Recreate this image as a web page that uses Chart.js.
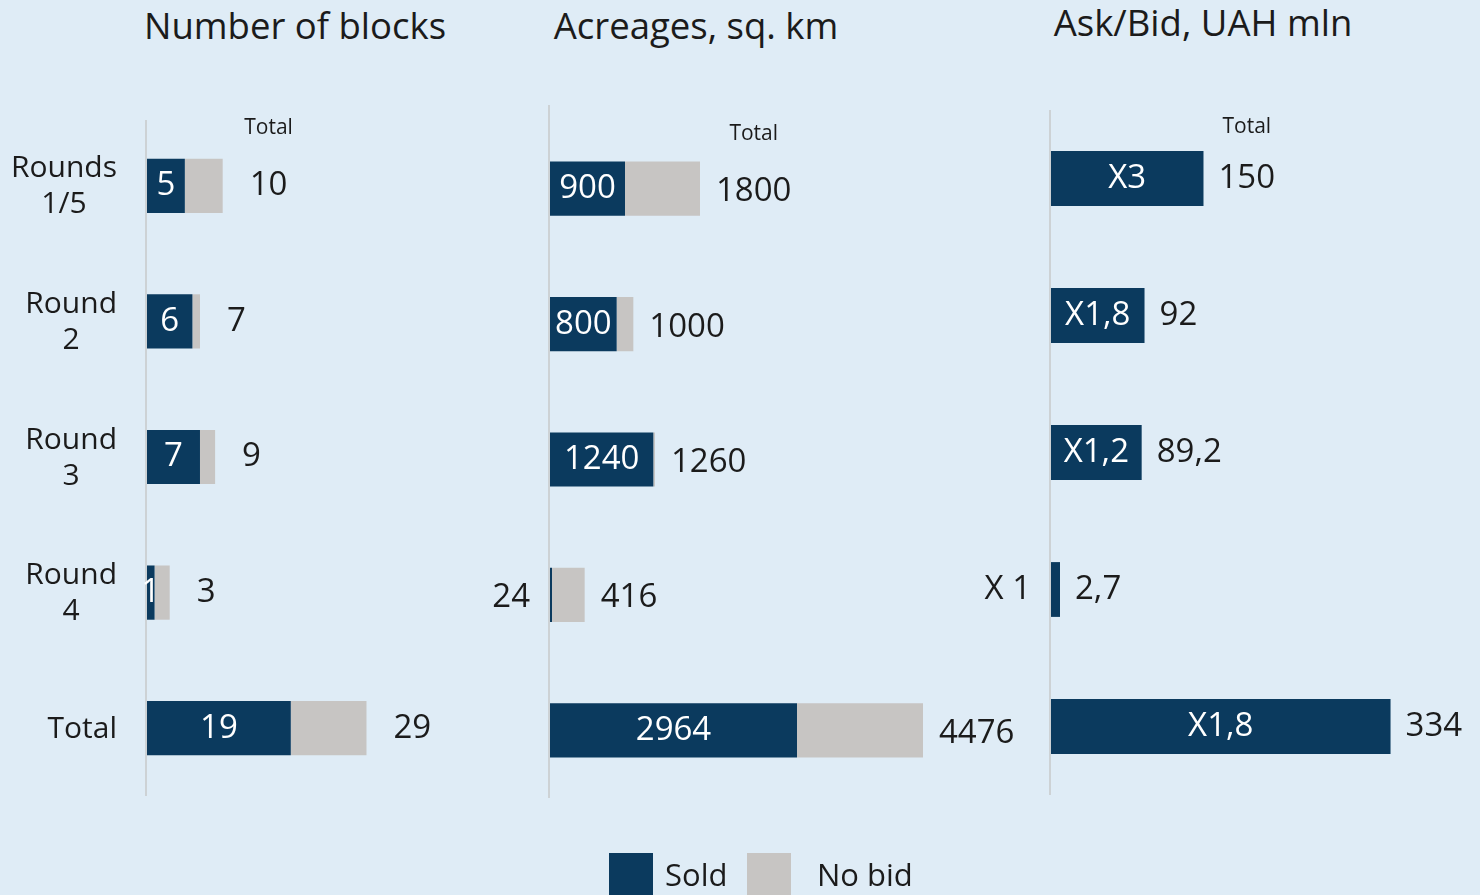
<!DOCTYPE html>
<html>
<head>
<meta charset="utf-8">
<script src="https://cdn.jsdelivr.net/npm/chart.js@4/dist/chart.umd.min.js"></script>
<style>
  body { margin: 0; background: #DFECF6; font-family: 'Open Sans', sans-serif; color: #1b1b1b; }
  #wrap { position: relative; width: 1480px; height: 895px; overflow: hidden; }
  canvas { position: absolute; left: 0; top: 0; }
  .title { position: absolute; font-size: 36.5px; white-space: nowrap; transform: translate(-50%, -50%); }
  .sw { position: absolute; width: 44px; height: 44px; top: 853px; }
  .lg { position: absolute; font-size: 31px; top: 874px; transform: translateY(-50%); white-space: nowrap; }
</style>
</head>
<body>
<div id="wrap">
  <div class="title" style="left:295px; top:25px">Number of blocks</div>
  <div class="title" style="left:696px; top:25px">Acreages, sq. km</div>
  <div class="title" style="left:1203px; top:22px">Ask/Bid, UAH mln</div>
  <canvas id="c1" width="1480" height="895"></canvas>
  <canvas id="c2" width="1480" height="895"></canvas>
  <canvas id="c3" width="1480" height="895"></canvas>
  <div class="sw" style="left:609px; background:#0B3A5E"></div>
  <div class="lg" style="left:665px">Sold</div>
  <div class="sw" style="left:747px; background:#C7C5C3"></div>
  <div class="lg" style="left:817px">No bid</div>
</div>
<script>
const rounds = [['Rounds', '1/5'], ['Round', '2'], ['Round', '3'], ['Round', '4'], 'Total'];

// number of blocks
const blocksSold = [5, 6, 7, 1, 19];
const blocksNoBid = [5, 1, 2, 2, 10];
const blocksTotal = ['10', '7', '9', '3', '29'];

// acreages, sq. km
const areaSold = [900, 800, 1240, 24, 2964];
const areaNoBid = [900, 200, 20, 392, 1512];
const areaTotal = ['1800', '1000', '1260', '416', '4476'];

// ask/bid, UAH mln
const bidSold = [150, 92, 89.2, 2.7, 334];
const bidRatio = ['X3', 'X1,8', 'X1,2', 'X 1', 'X1,8'];
const bidTotal = ['150', '92', '89,2', '2,7', '334'];

const DARK = '#0B3A5E';
const GRAY = '#C7C5C3';
const TEXT = '#1b1b1b';
const FONT = "'Open Sans', sans-serif";

const labelsPlugin = {
  id: 'panelLabels',
  afterDatasetsDraw(chart) {
    const o = chart.options.plugins.panelLabels;
    const ctx = chart.ctx;
    const area = chart.chartArea;
    const yScale = chart.scales.y;
    ctx.save();

    // axis line
    ctx.strokeStyle = '#CDD2D5';
    ctx.lineWidth = 2;
    ctx.beginPath();
    ctx.moveTo(area.left - 1, o.axisTop);
    ctx.lineTo(area.left - 1, area.bottom);
    ctx.stroke();

    // category labels
    if (o.categories) {
      ctx.font = '30px ' + FONT;
      ctx.fillStyle = TEXT;
      ctx.textAlign = 'center';
      ctx.textBaseline = 'middle';
      o.categories.forEach((lab, i) => {
        const lines = Array.isArray(lab) ? lab : [lab];
        const w = Math.max(...lines.map(l => ctx.measureText(l).width));
        const cx = o.catRight - w / 2;
        const cy = yScale.getPixelForValue(i) + 1;
        lines.forEach((l, k) => {
          ctx.fillText(l, cx, cy + (k - (lines.length - 1) / 2) * 36);
        });
      });
    }

    const soldMeta = chart.getDatasetMeta(0).data;
    const lastMeta = chart.getDatasetMeta(chart.data.datasets.length - 1).data;

    // labels inside the sold bars
    ctx.font = '33px ' + FONT;
    ctx.textBaseline = 'middle';
    o.inner.forEach((txt, i) => {
      const bar = soldMeta[i];
      const w = bar.x - bar.base;
      const tw = ctx.measureText(txt).width;
      if (o.outsideLeft && tw > w) {
        ctx.fillStyle = TEXT;
        ctx.textAlign = 'right';
        ctx.fillText(txt, area.left - 20, bar.y + o.dy);
      } else {
        ctx.fillStyle = '#ffffff';
        ctx.textAlign = 'center';
        ctx.fillText(txt, (bar.x + bar.base) / 2, bar.y);
      }
    });

    // totals to the right
    ctx.fillStyle = TEXT;
    ctx.textAlign = 'left';
    ctx.font = '33px ' + FONT;
    let firstCenter = 0;
    o.totals.forEach((txt, i) => {
      const bar = lastMeta[i];
      const x = bar.x + o.gap;
      ctx.fillText(txt, x, bar.y + o.dy);
      if (i === 0) firstCenter = x + ctx.measureText(txt).width / 2;
    });

    // "Total" header
    ctx.font = '21px ' + FONT;
    ctx.textAlign = 'center';
    ctx.fillText('Total', firstCenter, yScale.getPixelForValue(0) - o.headOffset);
    ctx.restore();
  }
};

function makePanel(id, p) {
  const datasets = [{ label: 'Sold', data: p.sold, backgroundColor: DARK, minBarLength: p.minBar || 0 }];
  if (p.noBid) datasets.push({ label: 'No bid', data: p.noBid, backgroundColor: GRAY });
  return new Chart(document.getElementById(id), {
    type: 'bar',
    data: { labels: rounds, datasets },
    options: {
      indexAxis: 'y',
      responsive: false,
      animation: false,
      events: [],
      layout: { padding: { left: p.left, right: 1480 - p.right, top: p.top, bottom: 895 - p.bottom } },
      datasets: { bar: { barPercentage: 0.4, categoryPercentage: 1, borderWidth: 0 } },
      scales: {
        x: { display: false, stacked: true, min: 0, max: p.max },
        y: { display: false, stacked: true }
      },
      plugins: {
        legend: { display: false },
        tooltip: { enabled: false },
        panelLabels: {
          categories: p.categories,
          catRight: 117,
          inner: p.inner,
          totals: p.totals,
          outsideLeft: p.outsideLeft,
          gap: p.gap,
          dy: p.dy,
          axisTop: p.axisTop,
          headOffset: p.headOffset
        }
      }
    },
    plugins: [labelsPlugin]
  });
}

makePanel('c1', {
  sold: blocksSold, noBid: blocksNoBid, categories: rounds,
  inner: blocksSold.map(String), totals: blocksTotal,
  left: 147, right: 480, top: 118, bottom: 796, max: 44,
  gap: 27, dy: 0, axisTop: 120, headOffset: 58, outsideLeft: false
});

makePanel('c2', {
  sold: areaSold, noBid: areaNoBid,
  inner: areaSold.map(String), totals: areaTotal,
  left: 550, right: 1000, top: 121, bottom: 798, max: 5400,
  gap: 16, dy: 3, axisTop: 105, headOffset: 55, outsideLeft: true
});

makePanel('c3', {
  sold: bidSold, minBar: 9,
  inner: bidRatio, totals: bidTotal,
  left: 1051, right: 1480, top: 110, bottom: 795, max: 422,
  gap: 15, dy: 0, axisTop: 110, headOffset: 51, outsideLeft: true
});
</script>
</body>
</html>
